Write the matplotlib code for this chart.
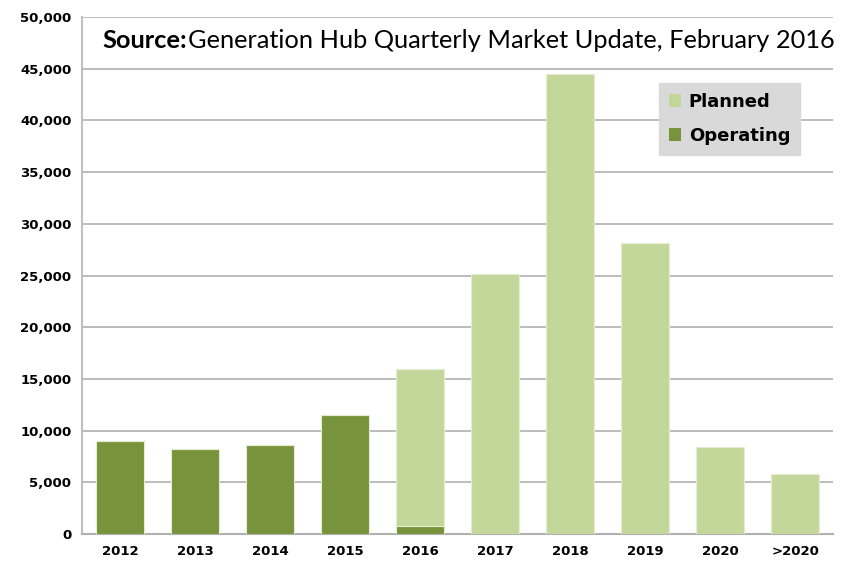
import numpy as np
from matplotlib import pyplot as plt
from matplotlib import rcParams
from matplotlib.ticker import FuncFormatter
from matplotlib.patches import Patch

rcParams['font.family'] = 'sans-serif'
rcParams['font.sans-serif'] = ['Lato', 'DejaVu Sans']

#%% data
years = ['2012', '2013', '2014', '2015', '2016', '2017', '2018', '2019', '2020', '>2020']
operating = np.array([9000, 8200, 8600, 11550, 800, 0, 0, 0, 0, 0])
planned = np.array([0, 0, 0, 0, 15200, 25100, 44500, 28100, 8450, 5850])

c_plan = '#C4D79B'
c_oper = '#77933C'

#%%
fig, ax = plt.subplots(figsize=(8.5, 5.64), dpi=100)
fig.subplots_adjust(left=0.097, right=0.98, top=0.97, bottom=0.053)

x = np.arange(len(years))
ax.bar(x, operating, width=0.64, color=c_oper, edgecolor='#e4ecd2', linewidth=0.8, zorder=3)
ax.bar(x, planned, width=0.64, bottom=operating, color=c_plan, edgecolor='#e4ecd2', linewidth=0.8, zorder=3)

ax.set_xlim(-0.5, len(years) - 0.5)
ax.set_ylim(0, 50000)
ax.set_yticks(np.arange(0, 50001, 5000))
ax.yaxis.set_major_formatter(FuncFormatter(lambda v, p: '{:,.0f}'.format(v)))
ax.set_xticks(x)
ax.set_xticklabels(years)
ax.tick_params(axis='both', length=0, labelsize=10, pad=8)
for lab in ax.get_xticklabels() + ax.get_yticklabels():
    lab.set_fontweight('bold')
    lab.set_family('DejaVu Sans')
    lab.set_fontsize(9.5)

ax.grid(axis='y', color='#b0b0b0', linewidth=1.2, zorder=0)
for s in ['top', 'right']:
    ax.spines[s].set_visible(False)
ax.spines['left'].set_color('#c0c0c0')
ax.spines['left'].set_linewidth(1.5)
ax.spines['bottom'].set_color('#b0b0b0')
ax.spines['bottom'].set_linewidth(1.5)

# title inside plot, sized to span ~735 px
fs = 19
x0_px = 102
for it in range(3):
    t1 = fig.text(x0_px / 850, 1 - 40 / 564, 'Source:', fontsize=fs, fontweight='bold', va='center', ha='left')
    fig.canvas.draw()
    b1 = t1.get_window_extent()
    t2 = fig.text((b1.x1 + 1) / 850, 1 - 40 / 564, 'Generation Hub Quarterly Market Update, February 2016',
                  fontsize=fs, va='center', ha='left')
    fig.canvas.draw()
    b2 = t2.get_window_extent()
    width = b2.x1 - b1.x0
    if abs(width - 735) < 3:
        break
    t1.remove()
    t2.remove()
    fs = fs * 735 / width

handles = [Patch(facecolor=c_plan), Patch(facecolor=c_oper)]
lg = ax.legend(handles, ['Planned', 'Operating'], loc='upper left', bbox_to_anchor=(0.768, 0.873),
               frameon=True, fancybox=False, prop={'size': 13, 'weight': 'bold', 'family': 'DejaVu Sans'},
               handlelength=0.7, handleheight=0.7, handletextpad=0.4, labelspacing=0.9,
               borderpad=0.55, borderaxespad=0)
lg.get_frame().set_facecolor('#d9d9d9')
lg.get_frame().set_edgecolor('#d9d9d9')
lg.get_frame().set_alpha(1)
lg.set_zorder(6)

fig.savefig('out.png', dpi=100)
